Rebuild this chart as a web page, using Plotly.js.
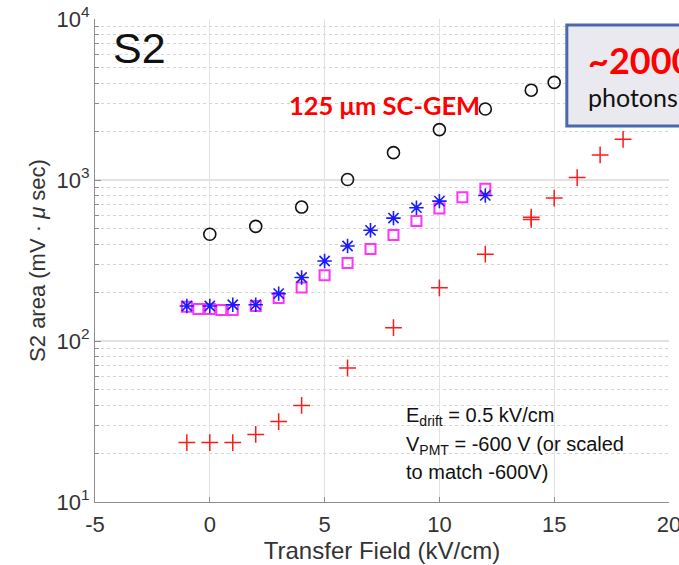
<!DOCTYPE html>
<html><head><meta charset="utf-8">
<script src="https://cdn.plot.ly/plotly-3.0.1.min.js"></script>
<style>html,body{margin:0;padding:0;background:#fff}#chart{width:679px;height:565px}</style>
</head><body><div id="chart"></div>
<script>
// Black open circles
const circleX = [0, 2, 4, 6, 8, 10, 12, 14, 15];
const circleY = [460, 515, 679, 1007, 1479, 2056, 2761, 3613, 4037];
// Red plus markers
const plusX = [-1, 0, 1, 2, 3, 4, 6, 8, 10, 12, 14, 14, 15, 16, 17, 18];
const plusY = [23.4, 23.4, 23.4, 26.3, 31.6, 39.8, 68, 121, 214, 346, 588, 569, 772, 1036, 1432, 1789];
// Blue asterisks
const starX = [-1, 0, 1, 2, 3, 4, 5, 6, 7, 8, 9, 10, 12];
const starY = [165, 165, 168, 168, 197, 248, 314, 389, 487, 580, 673, 739, 802];
// Magenta open squares
const squareX = [-1, -0.5, 0, 0.5, 1, 2, 3, 4, 5, 6, 7, 8, 9, 10, 11, 12];
const squareY = [163, 158, 158, 156, 156, 165, 185, 215, 256, 305, 373, 455, 556, 666, 782, 882];

const xTickVals = [-5, 0, 5, 10, 15, 20];
const xTickText = ['-5', '0', '5', '10', '15', '20'];
const yTickVals = [10, 100, 1000, 10000];
const yTickText = ['10<sup>1</sup>', '10<sup>2</sup>', '10<sup>3</sup>', '10<sup>4</sup>'];
const yMinorVals = [];
for (const d of [10, 100, 1000]) for (let k = 2; k <= 9; k++) yMinorVals.push(k * d);

const AX = 'Liberation Sans, Arial, sans-serif';
const CAL = 'Lato, Open Sans, sans-serif';

const traces = [
  {x: circleX, y: circleY, mode: 'markers', type: 'scatter',
   marker: {symbol: 'circle-open', size: 12, color: '#111', line: {width: 1.6, color: '#111'}}},
  {x: plusX, y: plusY, mode: 'markers', type: 'scatter',
   marker: {symbol: 'cross-thin-open', size: 12, color: '#ff1a1a', line: {width: 1.5, color: '#ff1a1a'}}},
  {x: squareX, y: squareY, mode: 'markers', type: 'scatter',
   marker: {symbol: 'square-open', size: 10, color: '#ff33ff', line: {width: 2, color: '#ff33ff'}}},
  {x: starX, y: starY, mode: 'markers', type: 'scatter',
   marker: {symbol: 'asterisk-open', size: 12, color: '#1a1aff', line: {width: 1.6, color: '#1a1aff'}}}
];

const layout = {
  width: 679, height: 565,
  margin: {l: 95, r: 10, t: 19, b: 63, pad: 0},
  paper_bgcolor: '#fff', plot_bgcolor: '#fff',
  showlegend: false,
  xaxis: {
    range: [-5, 20.0001], tickmode: 'array', tickvals: xTickVals, ticktext: xTickText,
    ticks: 'inside', ticklen: 5, tickcolor: '#8c8c8c', tickwidth: 1,
    showline: true, linecolor: '#8c8c8c', linewidth: 1,
    showgrid: true, gridcolor: '#e2e2e2', gridwidth: 1.2, zeroline: false,
    tickfont: {family: AX, size: 22, color: '#333'},
    ticklabelstandoff: 3, ticklabeloverflow: 'allow',
    title: {text: 'Transfer Field (kV/cm)', font: {family: AX, size: 24, color: '#333'}, standoff: 4}
  },
  yaxis: {
    type: 'log', range: [1, 4], tickmode: 'array', tickvals: yTickVals, ticktext: yTickText,
    ticks: 'inside', ticklen: 6, tickcolor: '#8c8c8c', tickwidth: 1,
    showline: true, linecolor: '#8c8c8c', linewidth: 1,
    showgrid: true, gridcolor: '#e2e2e2', gridwidth: 1.2, zeroline: false,
    tickfont: {family: AX, size: 22, color: '#333'},
    minor: {tickmode: 'array', tickvals: yMinorVals, ticks: 'inside', ticklen: 4,
            tickcolor: '#8c8c8c', showgrid: true, gridcolor: '#d4d4d4', griddash: 'dot', gridwidth: 1},
    title: {text: 'S2 area (mV · <i>μ</i> sec)', font: {family: AX, size: 22, color: '#333'}, standoff: 4}
  },
  shapes: [
    {type: 'rect', xref: 'paper', yref: 'paper', x0: 0.822, x1: 1.2, y0: 0.7785, y1: 0.9876,
     fillcolor: '#e9e9ef', line: {color: '#4a69ad', width: 3}, layer: 'above'}
  ],
  annotations: [
    {xref: 'paper', yref: 'paper', x: 0.028, y: 0.94, xanchor: 'left', yanchor: 'middle',
     text: 'S2', showarrow: false, font: {family: AX, size: 43, color: '#111'}},
    {xref: 'paper', yref: 'paper', x: 0.334, y: 0.822, xanchor: 'left', yanchor: 'middle',
     text: '<b>125 μm SC-GEM</b>', showarrow: false, font: {family: CAL, size: 25.5, color: '#ff0000'}},
    {xref: 'paper', yref: 'paper', x: 0.855, y: 0.915, xanchor: 'left', yanchor: 'middle',
     text: '<b>~2000</b>', showarrow: false, font: {family: CAL, size: 36, color: '#ff0000'}},
    {xref: 'paper', yref: 'paper', x: 0.855, y: 0.838, xanchor: 'left', yanchor: 'middle',
     text: 'photons', showarrow: false, font: {family: CAL, size: 25, color: '#111'}},
    {xref: 'paper', yref: 'paper', x: 0.538, y: 0.178, xanchor: 'left', yanchor: 'middle',
     text: 'E<sub>drift</sub> = 0.5 kV/cm', showarrow: false, font: {family: AX, size: 20, color: '#111'}},
    {xref: 'paper', yref: 'paper', x: 0.538, y: 0.118, xanchor: 'left', yanchor: 'middle',
     text: 'V<sub>PMT</sub> = -600 V (or scaled', showarrow: false, font: {family: AX, size: 20, color: '#111'}},
    {xref: 'paper', yref: 'paper', x: 0.538, y: 0.062, xanchor: 'left', yanchor: 'middle',
     text: 'to match -600V)', showarrow: false, font: {family: AX, size: 20, color: '#111'}}
  ]
};

Plotly.newPlot('chart', traces, layout, {staticPlot: true, displayModeBar: false});
</script>
</body></html>
